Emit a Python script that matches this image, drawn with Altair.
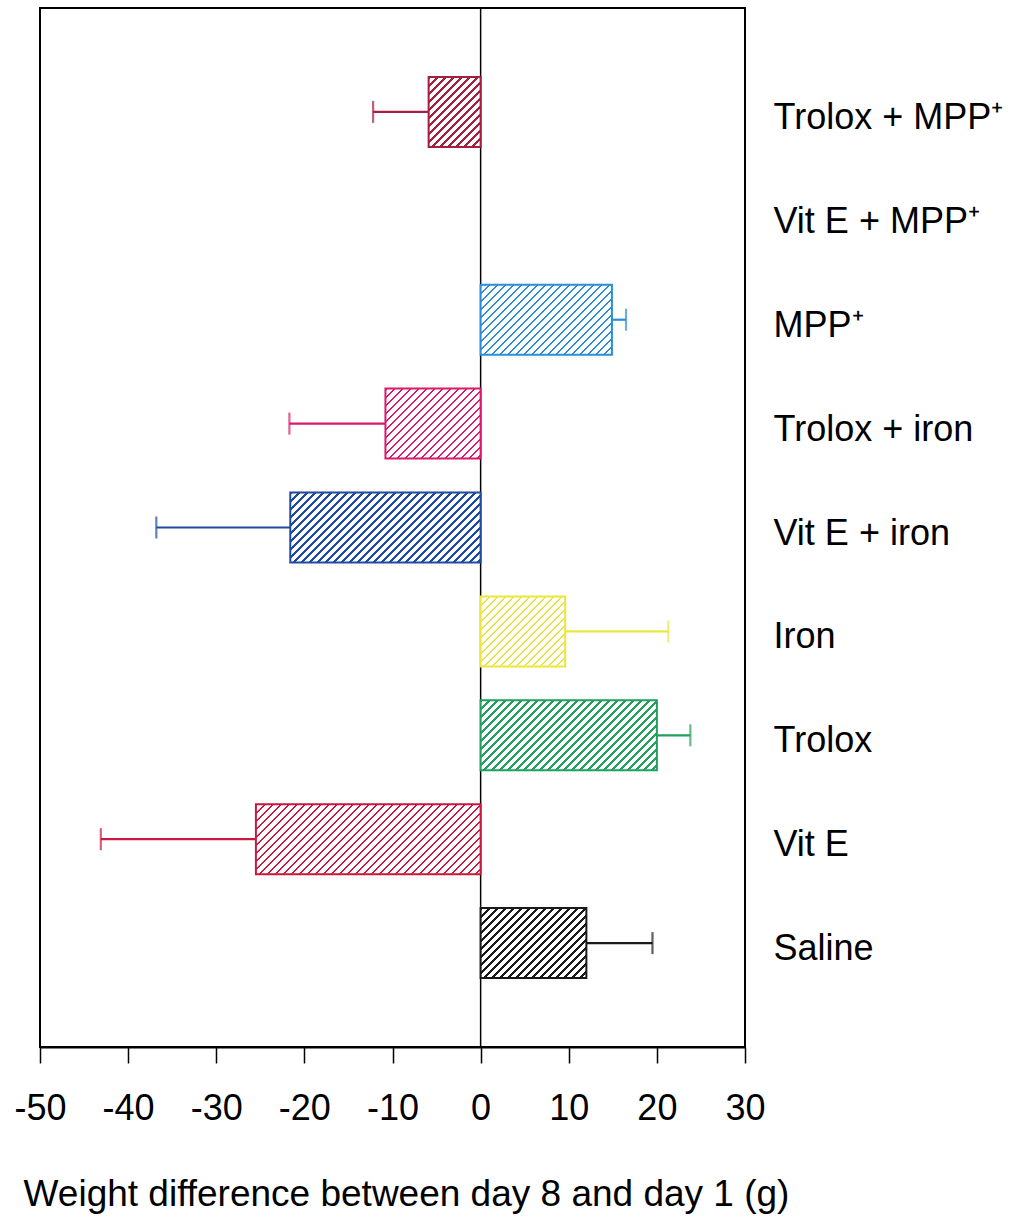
import altair as alt
import pandas as pd

# ---- data ----
categories = ["Trolox + MPP⁺", "Vit E + MPP⁺", "MPP⁺", "Trolox + iron",
              "Vit E + iron", "Iron", "Trolox", "Vit E", "Saline"]
bar_categories = ["Trolox + MPP⁺", "MPP⁺", "Trolox + iron", "Vit E + iron",
                  "Iron", "Trolox", "Vit E", "Saline"]
means = [-5.9, 14.9, -10.8, -21.6, 9.6, 20.0, -25.5, 12.0]
error_ends = [-12.2, 16.5, -21.7, -36.8, 21.3, 23.8, -43.1, 19.5]
colors = ["#a51f3e", "#2a8fd6", "#d91a6c", "#1f4b9f",
          "#ece63c", "#22a05e", "#c9193f", "#1a1a1a"]
x_ticks = [-50, -40, -30, -20, -10, 0, 10, 20, 30]

# ---- layout ----
W_PLOT, H_PLOT = 705, 1039
X_MIN, X_MAX = -50, 30
PX_PER_UNIT = W_PLOT / (X_MAX - X_MIN)
BAR_H = 70
FONT = "Liberation Sans"

df = pd.DataFrame({"cat": bar_categories, "mean": means,
                   "err": error_ends, "color": colors})

xscale = alt.Scale(domain=[X_MIN, X_MAX], nice=False, zero=False)
yscale = alt.Scale(domain=categories, paddingInner=0, paddingOuter=0.5)


def hatch(color, width_px, height_px, period=8.0, line=2.6):
    """Diagonal '/' hatch built as a hard-stop linear gradient."""
    Wd, Hd = max(width_px, 1.0), height_px
    L = Wd + Hd
    m = L / (Wd * Wd + Hd * Hd)
    stops = []
    k = 0
    while k * period < L:
        s = k * period / L
        e = min((k * period + line) / L, 1.0)
        stops += [alt.GradientStop(offset=s, color="white"),
                  alt.GradientStop(offset=s, color=color),
                  alt.GradientStop(offset=e, color=color),
                  alt.GradientStop(offset=e, color="white")]
        k += 1
    stops.append(alt.GradientStop(offset=1.0, color="white"))
    return alt.LinearGradient(gradient="linear", stops=stops,
                              x1=0, y1=0, x2=Wd * m, y2=Hd * m)


xaxis = alt.Axis(values=x_ticks, title="Weight difference between day 8 and day 1 (g)",
                 grid=False, tickSize=16, tickColor="black", domainColor="black",
                 domainWidth=2, tickWidth=1.5, labelFontSize=36, labelPadding=28,
                 labelOverlap=False, labelFlush=False, labelBound=False,
                 labelExpr="toString(datum.value)",
                 labelColor="black", labelFont=FONT, titleFont=FONT,
                 titleFontSize=37, titleFontWeight="normal", titleColor="black",
                 titlePadding=50, titleX=366)
yaxis = alt.Axis(orient="right", title=None, ticks=False, domain=False,
                 labelFontSize=36, labelFont=FONT, labelColor="black",
                 labelAlign="left", labelPadding=28, labelOffset=6, labelLimit=400)

layers = []
base_y = alt.Y("cat:N", scale=yscale, sort=categories, axis=yaxis)

for i, cat in enumerate(bar_categories):
    sub = df[df["cat"] == cat]
    col = colors[i]
    grad = hatch(col, abs(means[i]) * PX_PER_UNIT, BAR_H)
    bar = alt.Chart(sub).mark_bar(size=BAR_H, fill=grad, stroke=col,
                                  strokeWidth=2).encode(
        x=alt.X("mean:Q", scale=xscale, axis=xaxis),
        y=base_y,
    )
    rule = alt.Chart(sub).mark_rule(color=col, strokeWidth=2.2).encode(
        x=alt.X("mean:Q", scale=xscale, axis=xaxis),
        x2="err:Q",
        y=base_y,
    )
    cap = alt.Chart(sub).mark_tick(color=col, size=22, thickness=2.2,
                                   orient="vertical").encode(
        x=alt.X("err:Q", scale=xscale, axis=xaxis),
        y=base_y,
    )
    layers += [rule, bar, cap]

zero = alt.Chart(pd.DataFrame({"z": [0]})).mark_rule(
    color="black", strokeWidth=1.5).encode(
    x=alt.X("z:Q", scale=xscale, axis=xaxis))

chart = alt.layer(zero, *layers).properties(
    width=W_PLOT, height=H_PLOT,
    autosize=alt.AutoSizeParams(type="none"),
    padding={"left": 40, "top": 8, "right": 281, "bottom": 173},
    background="white",
).configure(
    font=FONT,
    view=alt.ViewConfig(stroke="black", strokeWidth=2),
)

chart.save("out.html", embed_options={"renderer": "svg", "actions": False})
